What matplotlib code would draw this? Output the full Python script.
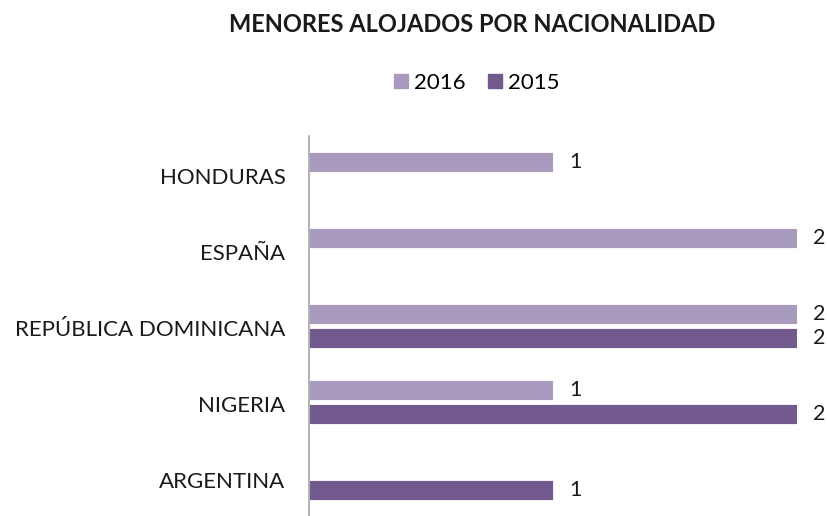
import matplotlib.pyplot as plt
from matplotlib.patches import Patch
import numpy as np

plt.rcParams['font.family'] = ['Lato', 'DejaVu Sans']

categories = ["HONDURAS", "ESPAÑA", "REPÚBLICA DOMINICANA", "NIGERIA", "ARGENTINA"]
v2016 = [1, 2, 2, 1, 0]
v2015 = [0, 0, 2, 2, 1]

c2016 = "#A99BBE"
c2015 = "#725A8F"

fig = plt.figure(figsize=(8.27, 5.16), dpi=100)
ax = fig.add_axes([309/827, 0.0, (797-309)/827, 1-136/516])

y = np.arange(len(categories))
h = 0.265
off = 0.16
for i, (a, b) in enumerate(zip(v2016, v2015)):
	if a > 0:
		ax.barh(i - off, a, height=h, color=c2016, edgecolor="white", linewidth=0.6)
		ax.text(a + 0.065, i - off, str(a), va="center", ha="left", fontsize=15.5, color="#1a1a1a")
	if b > 0:
		ax.barh(i + off, b, height=h, color=c2015, edgecolor="white", linewidth=0.6)
		ax.text(b + 0.065, i + off, str(b), va="center", ha="left", fontsize=15.5, color="#1a1a1a")

ax.set_xlim(0, 2)
ax.set_ylim(len(categories) - 0.5, -0.5)
ax.set_yticks(y + 0.03)
ax.set_yticklabels(categories, fontsize=16, color="#1a1a1a")
ax.tick_params(axis="y", length=0, pad=17)
ax.set_xticks([])
for s in ["top", "right", "bottom"]:
	ax.spines[s].set_visible(False)
ax.spines["left"].set_color("#a6a6a6")
ax.spines["left"].set_linewidth(1.2)

fig.text(472/827, 1-25/516, "MENORES ALOJADOS POR NACIONALIDAD", ha="center", va="center",
	fontsize=17, fontweight="bold", color="#1a1a1a")

handles = [Patch(color=c2016, label="2016"), Patch(color=c2015, label="2015")]
fig.legend(handles=handles, loc="center", bbox_to_anchor=(477/827, 1-83/516), ncol=2,
	frameon=False, fontsize=16, handlelength=0.6, handleheight=0.6, handletextpad=0.3,
	columnspacing=1.0)

fig.savefig("out.png", dpi=100)
